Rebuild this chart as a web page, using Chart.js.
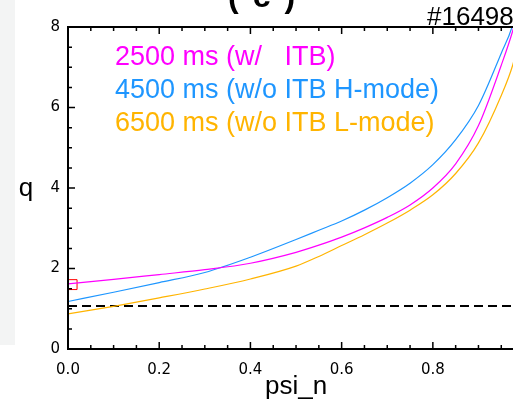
<!DOCTYPE html>
<html>
<head>
<meta charset="utf-8">
<script src="https://cdn.jsdelivr.net/npm/chart.js@4.4.1/dist/chart.umd.min.js"></script>
<style>
    html, body { margin: 0; padding: 0; background: #fff; overflow: hidden; width: 513px; height: 404px; }
    #wrap { position: relative; width: 548px; height: 404px; }
    #strip { position: absolute; left: 0; top: 0; width: 15px; height: 345px; background: #f3f4f4; }
    #panel-title { position: absolute; left: 228px; top: -22px; font: bold 32px "Liberation Sans", Arial, sans-serif; letter-spacing: 14px; white-space: pre; }
    #shot { position: absolute; left: 427px; top: 1px; font: 26px "Liberation Sans", Arial, sans-serif; white-space: pre; }
    canvas { position: absolute; left: 0; top: 0; }
</style>
</head>
<body>
<div id="wrap">
    <div id="strip"></div>
    <canvas id="chart" width="548" height="404"></canvas>
    <div id="panel-title">(c)</div>
    <div id="shot">#16498</div>
</div>
<script>
// --- Data ---
const psi   = [0, 0.1, 0.2, 0.3, 0.4, 0.5, 0.55, 0.6, 0.65, 0.7, 0.75, 0.8, 0.85, 0.9, 0.95, 0.975, 1.0];
const q2500 = [1.62, 1.73, 1.85, 1.97, 2.13, 2.40, 2.58, 2.78, 3.01, 3.27, 3.58, 4.0, 4.6, 5.55, 7.05, 7.9, 9.0];
const q4500 = [1.18, 1.41, 1.65, 1.90, 2.28, 2.72, 2.95, 3.18, 3.45, 3.76, 4.12, 4.58, 5.2, 6.05, 7.35, 8.05, 9.3];
const q6500 = [0.87, 1.06, 1.27, 1.49, 1.74, 2.06, 2.30, 2.57, 2.84, 3.13, 3.45, 3.83, 4.36, 5.12, 6.3, 7.05, 8.2];
const qRef = 1.07;
const markerPsi = 0.009;
const markerQ = 1.6;

const seriesLabels = ['2500 ms (w/   ITB)', '4500 ms (w/o ITB H-mode)', '6500 ms (w/o ITB L-mode)'];
const seriesColors = ['#ff00ff', '#1e96ff', '#ffb400'];

const xTicks = [0, 0.2, 0.4, 0.6, 0.8, 1.0];
const yTicks = [0, 2, 4, 6, 8];

const toPoints = (ys) => psi.map((x, i) => ({ x: x, y: ys[i] }));

// --- Inward IDL-style ticks + frame ---
const framePlugin = {
    id: 'frame',
    afterDatasetsDraw(chart) {
        const { ctx, chartArea: a, scales } = chart;
        ctx.save();
        ctx.strokeStyle = '#000';
        ctx.lineWidth = 2;
        ctx.strokeRect(a.left, a.top, a.right - a.left, a.bottom - a.top);

        ctx.lineWidth = 1.5;
        ctx.beginPath();
        for (let i = 0; i <= 20; i++) {
            const px = scales.x.getPixelForValue(i * 0.05);
            const len = (i % 4 === 0) ? 7 : 4;
            ctx.moveTo(px, a.bottom); ctx.lineTo(px, a.bottom - len);
            ctx.moveTo(px, a.top); ctx.lineTo(px, a.top + len);
        }
        for (let i = 0; i <= 16; i++) {
            const py = scales.y.getPixelForValue(i * 0.5);
            const len = (i % 4 === 0) ? 7 : 4;
            ctx.moveTo(a.left, py); ctx.lineTo(a.left + len, py);
            ctx.moveTo(a.right, py); ctx.lineTo(a.right - len, py);
        }
        ctx.stroke();

        // y axis title, upright like the original
        ctx.fillStyle = '#000';
        ctx.font = '26px "Liberation Sans", Arial, sans-serif';
        ctx.textAlign = 'center';
        ctx.textBaseline = 'alphabetic';
        ctx.fillText('q', 26, 196);

        // legend as coloured text
        ctx.font = '27px "Liberation Sans", Arial, sans-serif';
        ctx.textAlign = 'left';
        seriesLabels.forEach((lab, i) => {
            ctx.fillStyle = seriesColors[i];
            ctx.fillText(lab, a.left + 47, a.top + 38 + i * 33);
        });
        ctx.restore();
    }
};

const chart = new Chart(document.getElementById('chart'), {
    type: 'line',
    data: {
        datasets: [
            { label: seriesLabels[0], data: toPoints(q2500), borderColor: seriesColors[0] },
            { label: seriesLabels[1], data: toPoints(q4500), borderColor: seriesColors[1] },
            { label: seriesLabels[2], data: toPoints(q6500), borderColor: seriesColors[2] },
            {
                label: 'q=1', data: [{ x: 0, y: qRef }, { x: 1, y: qRef }],
                borderColor: '#000', borderWidth: 2, borderDash: [9, 5], cubicInterpolationMode: 'default', tension: 0
            },
            {
                label: 'marker', type: 'scatter', data: [{ x: markerPsi, y: markerQ }],
                pointStyle: 'rect', pointRadius: 7, borderColor: '#ff0000', borderWidth: 1,
                backgroundColor: 'rgba(0,0,0,0)', showLine: false
            }
        ]
    },
    options: {
        responsive: false,
        animation: false,
        layout: { padding: { top: 27, right: 16, left: 0, bottom: 0 } },
        elements: {
            line: { borderWidth: 1.2, cubicInterpolationMode: 'monotone', fill: false },
            point: { radius: 0, hoverRadius: 0 }
        },
        plugins: {
            legend: { display: false },
            tooltip: { enabled: false }
        },
        scales: {
            x: {
                type: 'linear', min: 0, max: 1,
                grid: { display: false, drawTicks: false },
                border: { display: false },
                afterBuildTicks: (s) => { s.ticks = xTicks.map(v => ({ value: v })); },
                afterFit: (s) => { s.height = 55; },
                ticks: {
                    padding: 12, color: '#000',
                    font: { family: '"DejaVu Sans", sans-serif', size: 15 },
                    callback: (v) => v.toFixed(1)
                },
                title: {
                    display: true, text: 'psi_n', color: '#000',
                    font: { family: '"Liberation Sans", Arial, sans-serif', size: 26 },
                    padding: { top: 0, bottom: 2 }
                }
            },
            y: {
                type: 'linear', min: 0, max: 8,
                grid: { display: false, drawTicks: false },
                border: { display: false },
                afterBuildTicks: (s) => { s.ticks = yTicks.map(v => ({ value: v })); },
                afterFit: (s) => { s.width = 68; },
                ticks: {
                    padding: 8, color: '#000',
                    font: { family: '"DejaVu Sans", sans-serif', size: 15 },
                    callback: (v) => String(v)
                }
            }
        }
    },
    plugins: [framePlugin]
});
</script>
</body>
</html>
